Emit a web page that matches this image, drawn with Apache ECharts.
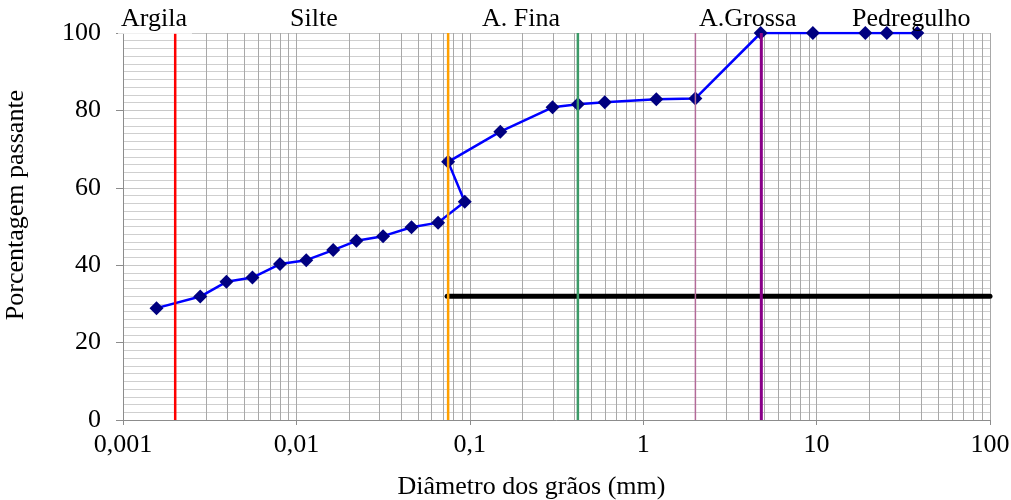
<!DOCTYPE html>
<html>
<head>
<meta charset="utf-8">
<script src="https://cdn.jsdelivr.net/npm/echarts@6/dist/echarts.min.js"></script>
<style>html,body{margin:0;padding:0;background:#fff}#c{width:1011px;height:500px}</style>
</head>
<body>
<div id="c"></div>
<script>
// Diâmetro dos grãos (mm)
var diameters = [0.00156, 0.00279, 0.00395, 0.00558, 0.00804, 0.0114, 0.0163, 0.0222, 0.0316, 0.0461, 0.0656, 0.0935, 0.075, 0.15, 0.30, 0.42, 0.60, 1.19, 2.0, 4.76, 9.52, 19.1, 25.4, 38.1];
// Porcentagem passante
var passing = [28.9, 31.9, 35.7, 36.8, 40.3, 41.3, 43.9, 46.3, 47.5, 49.8, 51.0, 56.4, 66.7, 74.5, 80.8, 81.6, 82.1, 82.9, 83.1, 100, 100, 100, 100, 100];
// Boundary lines (mm)
var limitLines = [
  {x: 0.002, color: '#ff0000', width: 2.5},
  {x: 0.075, color: '#ffa000', width: 2.5},
  {x: 0.42, color: '#3c9a68', width: 2.5},
  {x: 2.0, color: '#b36a98', width: 1.5},
  {x: 4.8, color: '#880088', width: 3}
];
// Horizontal reference line
var refLineX = [0.074, 100];
var refLineY = 32;
var xTickLabels = ['0,001', '0,01', '0,1', '1', '10', '100'];
var regionLabels = [
  {text: 'Argila', left: 121},
  {text: 'Silte', left: 290},
  {text: 'A. Fina', left: 482},
  {text: 'A.Grossa', left: 699},
  {text: 'Pedregulho', left: 852}
];

var FONT = 'Liberation Serif';
var FS = 26;
var minorX = [];
for (var k = -3; k <= 1; k++) {
  for (var m = 2; m <= 9; m++) {
    minorX.push(+(m * Math.pow(10, k)).toPrecision(3));
  }
}

var chart = echarts.init(document.getElementById('c'), null, {renderer: 'canvas'});

var series = [];
// minor vertical grid lines (2..9 within each decade)
series.push({
  type: 'custom', silent: true, z: 1,
  data: minorX.map(function (v) { return [v]; }),
  encode: {x: 0},
  renderItem: function (params, api) {
    var top = api.coord([api.value(0), 100]);
    var bot = api.coord([api.value(0), 0]);
    return {
      type: 'line',
      shape: {x1: Math.round(top[0]) + 0.5, y1: top[1], x2: Math.round(bot[0]) + 0.5, y2: bot[1]},
      style: {stroke: '#a8a8a8', lineWidth: 1}
    };
  }
});
series.push({
  type: 'line',
  data: diameters.map(function (d, i) { return [d, passing[i]]; }),
  symbol: 'diamond', symbolSize: 14,
  itemStyle: {color: '#000080'},
  lineStyle: {color: '#0000ff', width: 2.5},
  z: 3
});
series.push({
  type: 'line',
  data: [[refLineX[0], refLineY], [refLineX[1], refLineY]],
  symbol: 'none',
  lineStyle: {color: '#000000', width: 5, cap: 'round'},
  z: 4
});
limitLines.forEach(function (l) {
  series.push({
    type: 'line',
    data: [[l.x, 0], [l.x, 100]],
    symbol: 'none',
    lineStyle: {color: l.color, width: l.width},
    z: 5
  });
});

var graphics = [{
  type: 'rect', shape: {x: 118, y: 0, width: 74, height: 33.8},
  style: {fill: '#fff'}, z: 100
}, {
  type: 'text', x: 16, y: 205, rotation: Math.PI / 2, z: 101,
  style: {text: 'Porcentagem passante', fill: '#000', font: FS + 'px "' + FONT + '"', align: 'center', verticalAlign: 'middle'}
}];
regionLabels.forEach(function (r) {
  graphics.push({
    type: 'text', left: r.left, top: 6, z: 101,
    style: {text: r.text, fill: '#000', font: FS + 'px "' + FONT + '"'}
  });
});

chart.setOption({
  animation: false,
  backgroundColor: '#fff',
  grid: {left: 123, right: 21, top: 33, bottom: 80, containLabel: false, outerBoundsMode: 'none'},
  xAxis: {
    type: 'log', logBase: 10, min: 0.001, max: 100,
    name: 'Diâmetro dos grãos (mm)', nameLocation: 'middle', nameGap: 54,
    nameTextStyle: {fontFamily: FONT, fontSize: FS, color: '#000', padding: [0, 50, 0, 0]},
    axisLine: {show: true, lineStyle: {color: '#8c8c8c', width: 1}},
    axisTick: {show: true, length: 5, lineStyle: {color: '#8c8c8c'}},
    axisLabel: {
      fontFamily: FONT, fontSize: FS, color: '#000', margin: 12,
      formatter: function (v) { return xTickLabels[Math.round(Math.log10(v)) + 3]; }
    },
    splitLine: {show: true, lineStyle: {color: '#a8a8a8', width: 1}},
    minorTick: {show: false}, minorSplitLine: {show: false}
  },
  yAxis: {
    type: 'value', min: 0, max: 100, interval: 20,
    axisLine: {show: true, lineStyle: {color: '#8c8c8c', width: 1}},
    axisTick: {show: true, length: 7, lineStyle: {color: '#8c8c8c'}},
    axisLabel: {fontFamily: FONT, fontSize: FS, color: '#000', margin: 22},
    splitLine: {show: true, lineStyle: {color: '#c8c8c8', width: 1}},
    minorTick: {show: false, splitNumber: 10},
    minorSplitLine: {show: true, lineStyle: {color: '#cfcfcf', width: 1}}
  },
  graphic: graphics,
  series: series
});
</script>
</body>
</html>
